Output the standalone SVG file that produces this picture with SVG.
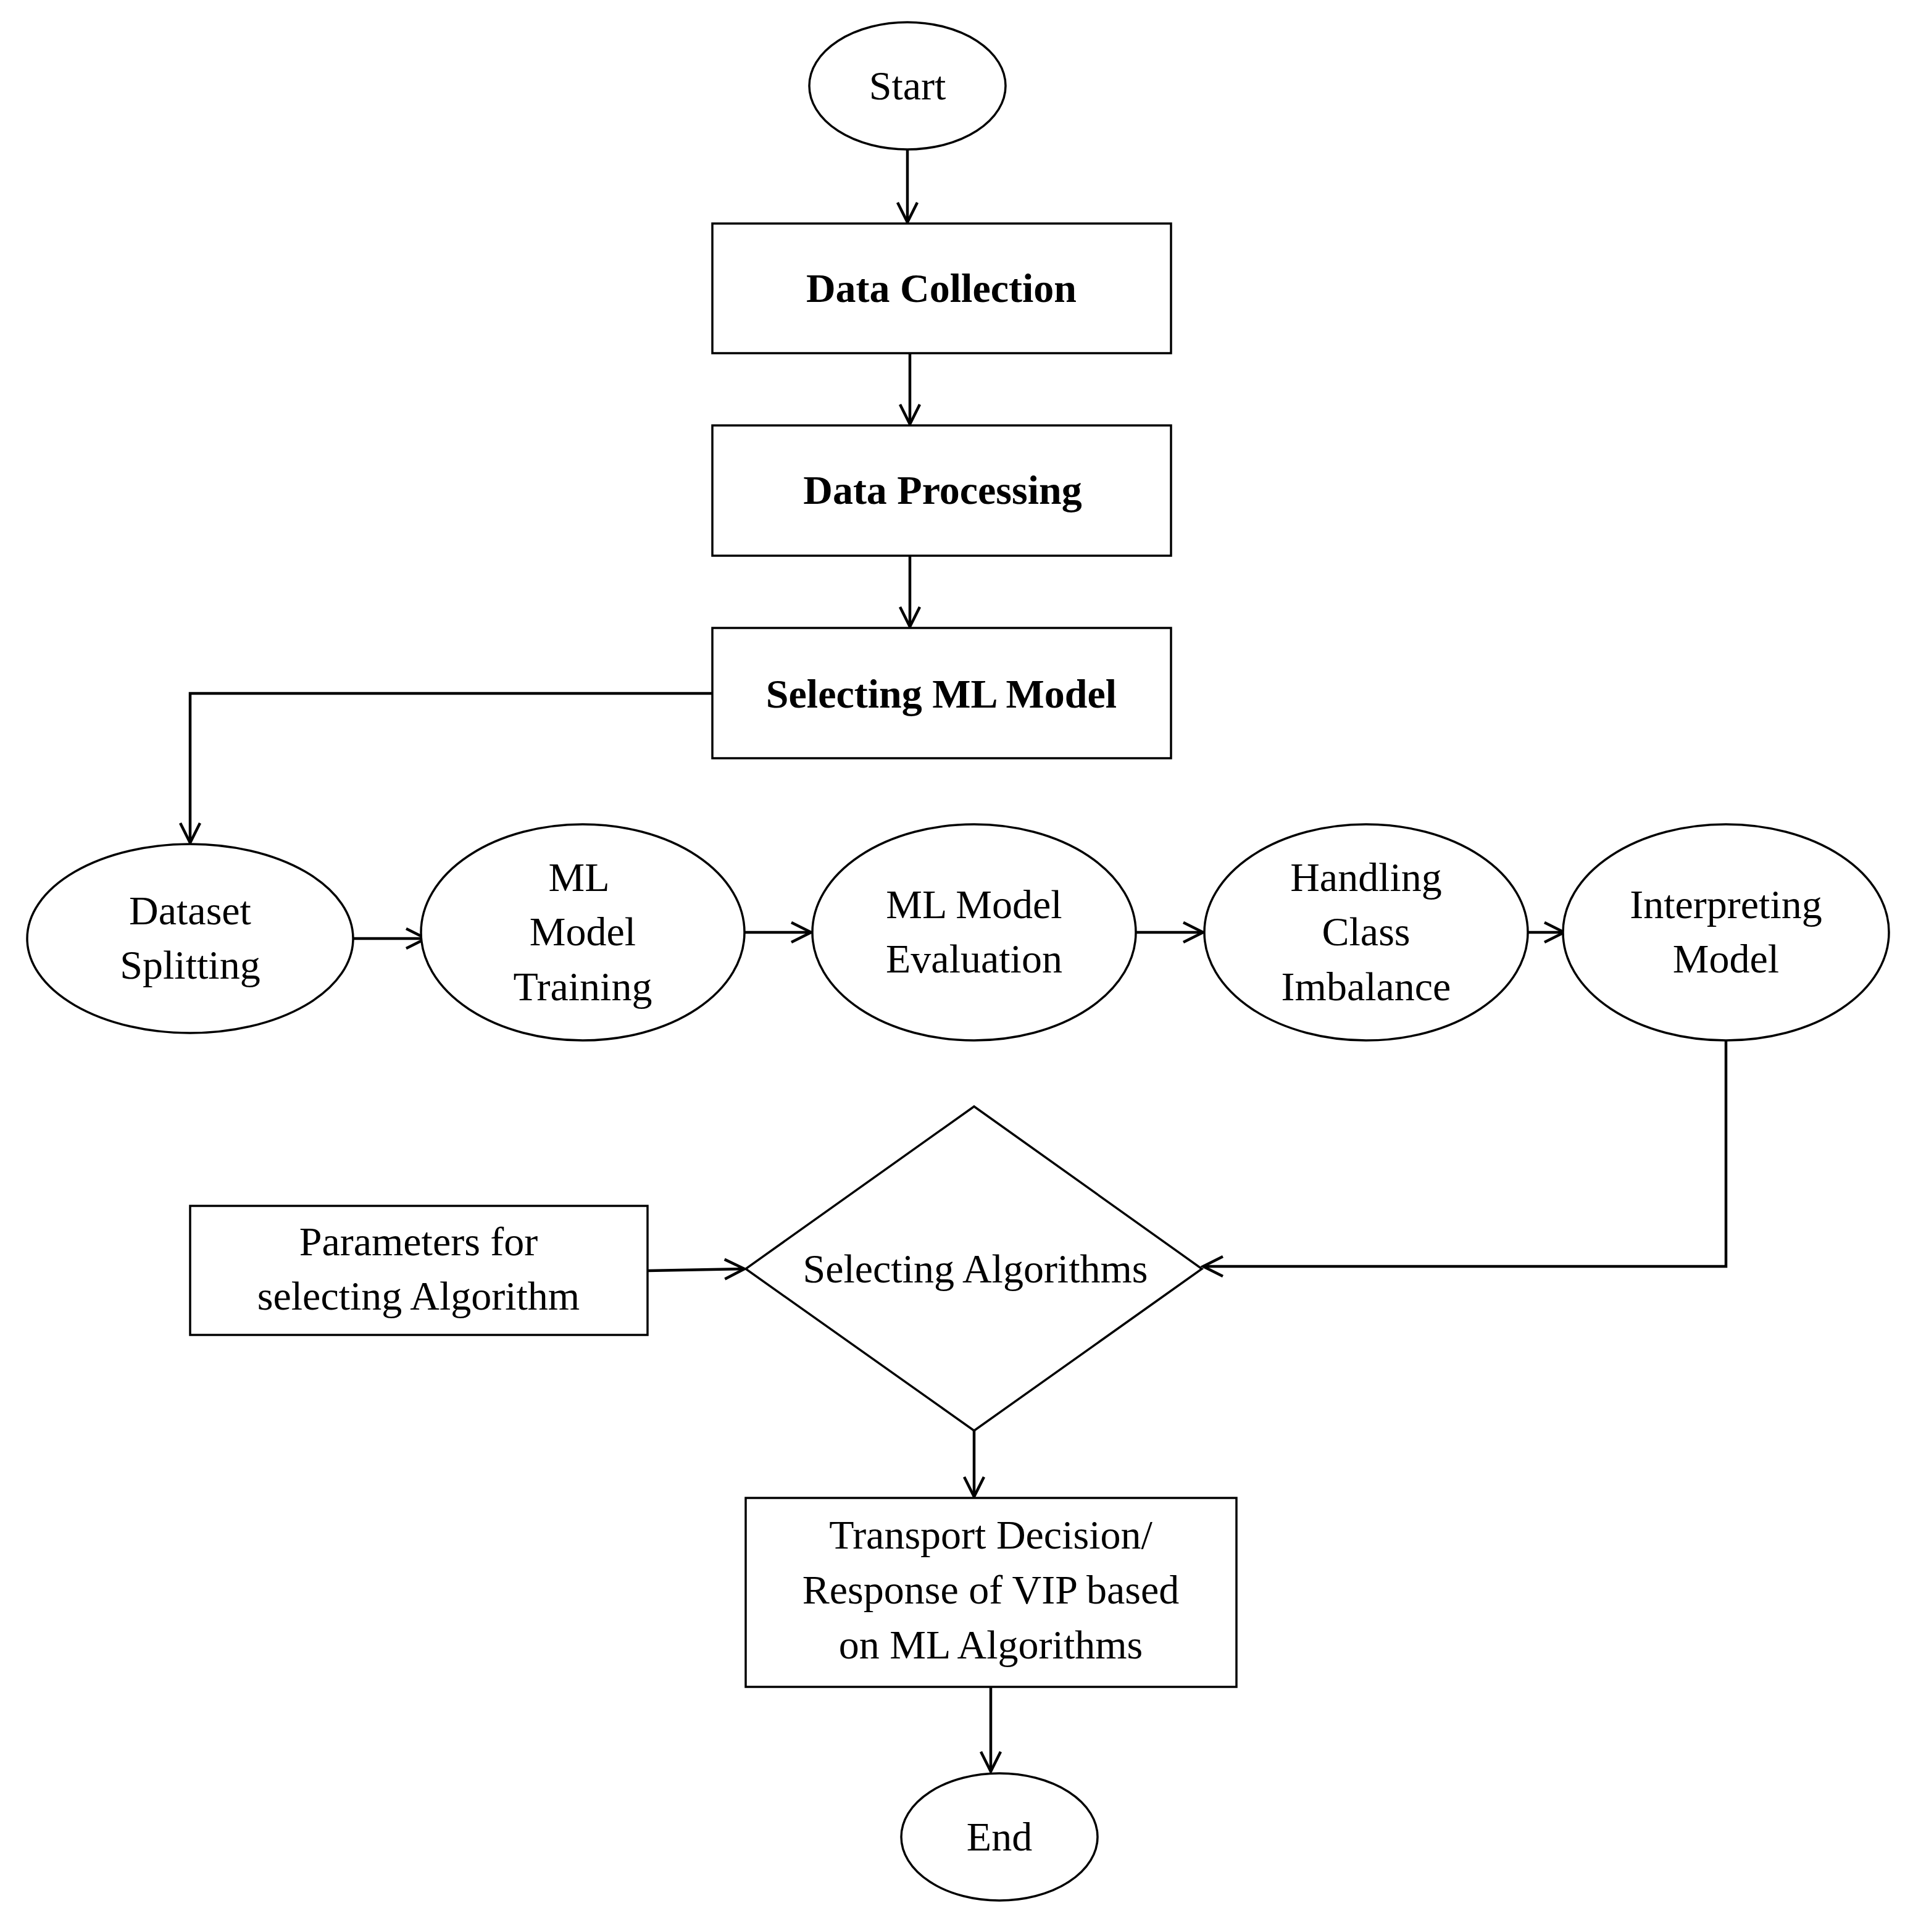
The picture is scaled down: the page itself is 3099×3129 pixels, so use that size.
<svg xmlns="http://www.w3.org/2000/svg" width="3099" height="3129" viewBox="0 0 3099 3129">
<style>
.s{fill:#fff;stroke:#000;stroke-width:3.5}
.t{font-family:"Liberation Serif",serif;font-size:66px;text-anchor:middle;fill:#000}
.b{font-weight:bold}
.c{fill:none;stroke:#000;stroke-width:4.5}
</style>
<defs><marker id="a" markerWidth="12" markerHeight="12" refX="10" refY="6" orient="auto" markerUnits="userSpaceOnUse" viewBox="0 0 12 12"><path d="M0,0 L10,6 L0,12" fill="none" stroke="#000" stroke-width="1.6"/></marker>
<marker id="h" markerWidth="40" markerHeight="40" refX="36" refY="20" orient="auto" markerUnits="userSpaceOnUse"><path d="M4,4 L36,20 L4,36" fill="none" stroke="#000" stroke-width="4.5"/></marker></defs>
<rect width="3099" height="3129" fill="#fff"/>
<g id="connectors">
<path class="c" d="M1470,242 V360" marker-end="url(#h)"/>
<path class="c" d="M1474,572 V687" marker-end="url(#h)"/>
<path class="c" d="M1474,900 V1015" marker-end="url(#h)"/>
<path class="c" d="M1154,1123 H308 V1365" marker-end="url(#h)"/>
<path class="c" d="M572,1520 H690" marker-end="url(#h)"/>
<path class="c" d="M1206,1510 H1314" marker-end="url(#h)"/>
<path class="c" d="M1840,1510 H1949" marker-end="url(#h)"/>
<path class="c" d="M2475,1510 H2534" marker-end="url(#h)"/>
<path class="c" d="M2796,1685 V2051 H1949" marker-end="url(#h)"/>
<path class="c" d="M1049,2058 L1206,2055" marker-end="url(#h)"/>
<path class="c" d="M1578,2317 V2424" marker-end="url(#h)"/>
<path class="c" d="M1605,2732 V2869" marker-end="url(#h)"/>
</g>
<g id="start"><ellipse class="s" cx="1470" cy="139" rx="159" ry="103"/><text class="t" x="1470" y="161">Start</text></g>
<g id="collection"><rect class="s" x="1154" y="362" width="743" height="210"/><text class="t b" x="1525" y="489">Data Collection</text></g>
<g id="processing"><rect class="s" x="1154" y="689" width="743" height="211"/><text class="t b" x="1527" y="816">Data Processing</text></g>
<g id="selecting"><rect class="s" x="1154" y="1017" width="743" height="211"/><text class="t b" x="1525" y="1146">Selecting ML Model</text></g>
<g id="split"><ellipse class="s" cx="308" cy="1520" rx="264" ry="153"/><text class="t" x="308" y="1497">Dataset</text><text class="t" x="308" y="1585">Splitting</text></g>
<g id="train"><ellipse class="s" cx="944" cy="1510" rx="262" ry="175"/><text class="t" x="938" y="1443">ML</text><text class="t" x="944" y="1531">Model</text><text class="t" x="944" y="1620">Training</text></g>
<g id="eval"><ellipse class="s" cx="1578" cy="1510" rx="262" ry="175"/><text class="t" x="1578" y="1487">ML Model</text><text class="t" x="1578" y="1575">Evaluation</text></g>
<g id="imb"><ellipse class="s" cx="2213" cy="1510" rx="262" ry="175"/><text class="t" x="2213" y="1443">Handling</text><text class="t" x="2213" y="1531">Class</text><text class="t" x="2213" y="1620">Imbalance</text></g>
<g id="interp"><ellipse class="s" cx="2796" cy="1510" rx="264" ry="175"/><text class="t" x="2796" y="1487">Interpreting</text><text class="t" x="2796" y="1575">Model</text></g>
<g id="params"><rect class="s" x="308" y="1953" width="741" height="209"/><text class="t" x="678" y="2033">Parameters for</text><text class="t" x="678" y="2121">selecting Algorithm</text></g>
<g id="decision"><polygon class="s" points="1578,1792 1947,2055 1578,2317 1208,2055"/><text class="t" x="1580" y="2077">Selecting Algorithms</text></g>
<g id="transport"><rect class="s" x="1208" y="2426" width="795" height="306"/><text class="t" x="1605" y="2508">Transport Decision/</text><text class="t" x="1605" y="2597">Response of VIP based</text><text class="t" x="1605" y="2686">on ML Algorithms</text></g>
<g id="end"><ellipse class="s" cx="1619" cy="2975" rx="159" ry="103"/><text class="t" x="1619" y="2997">End</text></g>
</svg>
